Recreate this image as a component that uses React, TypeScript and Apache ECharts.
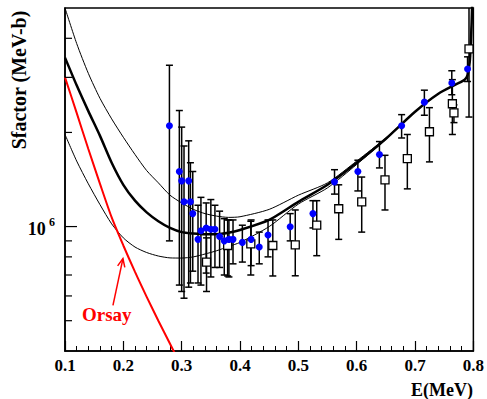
import React, { useEffect, useRef } from 'react';
import * as echarts from 'echarts';

// ---- axis ----
const X_MIN = 0.1;
const X_MAX = 0.8;
const Y_MIN = 4e5;
const Y_MAX = 5e6;
const yTickValues = [5e5, 6e5, 7e5, 8e5, 9e5, 1e6, 2e6, 3e6, 4e6];
const yMajorTick = 1e6;

// ---- model curves ----
const curveE = [0.10, 0.12, 0.14, 0.16, 0.18, 0.20, 0.22, 0.24, 0.26, 0.28, 0.30, 0.32, 0.34, 0.36, 0.38, 0.40, 0.45, 0.50, 0.55, 0.60, 0.65, 0.70, 0.74, 0.77, 0.785, 0.79, 0.794, 0.797, 0.80];
const thickS = [3.47e6, 2.83e6, 2.34e6, 1.95e6, 1.60e6, 1.36e6, 1.21e6, 1.11e6, 1.04e6, 9.9e5, 9.6e5, 9.5e5, 9.45e5, 9.45e5, 9.55e5, 9.75e5, 1.05e6, 1.20e6, 1.36e6, 1.60e6, 1.91e6, 2.33e6, 2.66e6, 2.85e6, 2.95e6, 3.05e6, 3.4e6, 4.5e6, 7e6];
const upperS = [5.0e6, 3.85e6, 3.09e6, 2.57e6, 2.21e6, 1.93e6, 1.70e6, 1.51e6, 1.38e6, 1.26e6, 1.19e6, 1.135e6, 1.10e6, 1.08e6, 1.07e6, 1.075e6, 1.135e6, 1.26e6, 1.38e6, 1.62e6, 1.92e6, 2.33e6, 2.66e6, 2.85e6, 2.95e6, 3.05e6, 3.4e6, 4.5e6, 7e6];
const lowerS = [1.97e6, 1.62e6, 1.37e6, 1.175e6, 1.02e6, 9.2e5, 8.6e5, 8.26e5, 8.05e5, 7.94e5, 7.93e5, 8.0e5, 8.17e5, 8.37e5, 8.63e5, 8.9e5, 1.0e6, 1.18e6, 1.33e6, 1.58e6, 1.90e6, 2.33e6, 2.66e6, 2.85e6, 2.95e6, 3.05e6, 3.4e6, 4.5e6, 7e6];

// ---- Orsay curve ----
const orsayE = [0.10, 0.12, 0.14, 0.16, 0.18, 0.20, 0.22, 0.24, 0.26, 0.28, 0.30];
const orsayS = [3.0e6, 2.31e6, 1.77e6, 1.37e6, 1.07e6, 8.7e5, 7.16e5, 5.96e5, 5.0e5, 4.22e5, 3.55e5];
const arrowFrom = [0.1822, 5.6e5];
const arrowTo = [0.1993, 7.9e5];

// ---- blue data (filled circles) ----
const blueE = [0.279, 0.296, 0.300, 0.304, 0.312, 0.315, 0.319, 0.328, 0.333, 0.342, 0.350, 0.357, 0.365, 0.373, 0.381, 0.388, 0.404, 0.419, 0.433, 0.448, 0.486, 0.525, 0.562, 0.602, 0.639, 0.677, 0.716, 0.763, 0.790];
const blueS = [2.10e6, 1.50e6, 1.40e6, 1.20e6, 1.40e6, 1.20e6, 1.10e6, 9.1e5, 9.7e5, 9.9e5, 9.8e5, 9.8e5, 9.3e5, 9.0e5, 9.1e5, 9.1e5, 8.9e5, 9.1e5, 8.6e5, 9.4e5, 9.98e5, 1.10e6, 1.39e6, 1.50e6, 1.70e6, 2.10e6, 2.50e6, 2.88e6, 3.19e6];
const blueLo = [9.0e5, 6.5e5, 6.2e5, 5.9e5, 6.4e5, 6.6e5, 7.2e5, 6.6e5, 6.5e5, 7.1e5, 6.9e5, 7.4e5, 7.4e5, 7.0e5, 6.9e5, 7.6e5, 7.7e5, 7.5e5, 7.6e5, 8.0e5, 9.0e5, 9.9e5, 1.27e6, 1.30e6, 1.54e6, 1.92e6, 2.27e6, 2.64e6, 2.91e6];
const blueHi = [3.28e6, 2.35e6, 2.08e6, 1.81e6, 1.88e6, 1.60e6, 1.50e6, 1.17e6, 1.24e6, 1.19e6, 1.22e6, 1.17e6, 1.12e6, 1.06e6, 1.05e6, 1.05e6, 1.01e6, 1.05e6, 9.6e5, 1.05e6, 1.10e6, 1.21e6, 1.52e6, 1.63e6, 1.87e6, 2.28e6, 2.73e6, 3.15e6, 3.49e6];

// ---- open square data ----
const sqE = [0.3426, 0.3788, 0.4185, 0.4562, 0.4947, 0.5315, 0.5692, 0.6086, 0.6485, 0.6868, 0.7247, 0.764, 0.7667, 0.7925];
const sqS = [7.7e5, 8.7e5, 8.8e5, 8.7e5, 8.74e5, 1.01e6, 1.14e6, 1.20e6, 1.41e6, 1.65e6, 2.01e6, 2.47e6, 2.31e6, 3.7e6];
const sqLo = [6.2e5, 6.95e5, 7.0e5, 6.95e5, 6.96e5, 8.07e5, 9.1e5, 9.6e5, 1.13e6, 1.32e6, 1.61e6, 1.97e6, 2.15e6, 2.24e6];
const sqHi = [9.2e5, 1.05e6, 1.04e6, 1.05e6, 1.13e6, 1.21e6, 1.36e6, 1.44e6, 1.69e6, 1.97e6, 2.40e6, 2.95e6, 2.45e6, 6e6];

const FONT = 'Liberation Serif';

function errorBarRender(params: any, api: any) {
  const x = api.value(0);
  const lo = api.coord([x, api.value(1)]);
  const hi = api.coord([x, api.value(2)]);
  const w = 3.5;
  const style = { stroke: '#000', lineWidth: 1.5 };
  return {
    type: 'group',
    children: [
      { type: 'line', shape: { x1: lo[0], y1: lo[1], x2: hi[0], y2: hi[1] }, style },
      { type: 'line', shape: { x1: lo[0] - w, y1: lo[1], x2: lo[0] + w, y2: lo[1] }, style },
      { type: 'line', shape: { x1: hi[0] - w, y1: hi[1], x2: hi[0] + w, y2: hi[1] }, style },
    ],
  };
}

export default function App() {
  const ref = useRef<HTMLDivElement>(null);
  useEffect(() => {
    const chart = echarts.init(ref.current!, null, { renderer: 'svg' });
    const lineData = (ys: number[]) => curveE.map((e, i) => [e, ys[i]]);
    const option: any = {
      animation: false,
      backgroundColor: '#fff',
      grid: { left: 65, right: 13, top: 8, bottom: 48, show: true, borderColor: '#000', borderWidth: 1.5, backgroundColor: 'transparent' },
      xAxis: {
        type: 'value', min: X_MIN, max: X_MAX, interval: 0.1,
        axisLine: { show: true, lineStyle: { color: '#000', width: 1.5 } },
        axisTick: { show: true, inside: true, length: 10, lineStyle: { color: '#000', width: 1.2 } },
        minorTick: { show: true, splitNumber: 5, length: 5, lineStyle: { color: '#000', width: 1 } },
        splitLine: { show: false },
        minorSplitLine: { show: false },
        axisLabel: { formatter: (v: number) => v.toFixed(1), color: '#000', fontFamily: FONT, fontWeight: 'bold', fontSize: 17, margin: 6 },
      },
      yAxis: {
        type: 'log', logBase: 10, min: Y_MIN, max: Y_MAX,
        axisLine: { show: true, lineStyle: { color: '#000', width: 1.5 } },
        axisTick: { show: false },
        splitLine: { show: false },
        axisLabel: {
          showMinLabel: false, showMaxLabel: false, margin: 10,
          formatter: (v: number) => (Math.abs(v - yMajorTick) < 1 ? '{b|10} {s|6}' : ''),
          rich: {
            b: { fontFamily: FONT, fontWeight: 'bold', fontSize: 18, color: '#000', lineHeight: 22, verticalAlign: 'bottom' },
            s: { fontFamily: FONT, fontWeight: 'bold', fontSize: 12, color: '#000', lineHeight: 22, verticalAlign: 'top' },
          },
        },
      },
      graphic: [
        { type: 'text', x: 473, y: 390, style: { text: 'E(MeV)', fontFamily: FONT, fontWeight: 'bold', fontSize: 18, fill: '#000', align: 'right', verticalAlign: 'middle' } },
        { type: 'text', x: 19, y: 80, rotation: Math.PI / 2, style: { text: 'Sfactor (MeV-b)', fontFamily: FONT, fontWeight: 'bold', fontSize: 20, fill: '#000', align: 'center', verticalAlign: 'middle' } },
        { type: 'text', x: 82, y: 314, style: { text: 'Orsay', fontFamily: FONT, fontWeight: 'bold', fontSize: 19, fill: '#ff0000', align: 'left', verticalAlign: 'middle' } },
      ],
      series: [
        { type: 'line', data: lineData(lowerS), symbol: 'none', smooth: 0.25, lineStyle: { color: '#000', width: 1 }, z: 2 },
        { type: 'line', data: lineData(upperS), symbol: 'none', smooth: 0.25, lineStyle: { color: '#000', width: 1 }, z: 2 },
        { type: 'line', data: lineData(thickS), symbol: 'none', smooth: 0.25, lineStyle: { color: '#000', width: 2.5 }, z: 3 },
        { type: 'line', data: orsayE.map((e, i) => [e, orsayS[i]]), symbol: 'none', smooth: 0.25, lineStyle: { color: '#ff0000', width: 2 }, z: 4 },
        {
          type: 'custom', z: 4, clip: false,
          data: [[arrowFrom[0], arrowFrom[1], arrowTo[0], arrowTo[1]]],
          renderItem: (params: any, api: any) => {
            const a = api.coord([api.value(0), api.value(1)]);
            const b = api.coord([api.value(2), api.value(3)]);
            const ang = Math.atan2(b[1] - a[1], b[0] - a[0]);
            const L = 9, spread = 0.42;
            const p1 = [b[0] - L * Math.cos(ang - spread), b[1] - L * Math.sin(ang - spread)];
            const p2 = [b[0] - L * Math.cos(ang + spread), b[1] - L * Math.sin(ang + spread)];
            const style = { stroke: '#ff0000', lineWidth: 1.5, fill: null };
            return {
              type: 'group',
              children: [
                { type: 'line', shape: { x1: a[0], y1: a[1], x2: b[0], y2: b[1] }, style },
                { type: 'polyline', shape: { points: [p1, b, p2] }, style },
              ],
            };
          },
        },
        { type: 'custom', z: 5, clip: true, renderItem: errorBarRender, encode: { x: 0, y: [1, 2] }, data: sqE.map((e, i) => [e, sqLo[i], sqHi[i]]) },
        { type: 'custom', z: 5, clip: true, renderItem: errorBarRender, encode: { x: 0, y: [1, 2] }, data: blueE.map((e, i) => [e, blueLo[i], blueHi[i]]) },
        { type: 'scatter', z: 6, symbol: 'rect', symbolSize: 8, itemStyle: { color: '#ffffff', borderColor: '#000', borderWidth: 1.3, opacity: 1 }, data: sqE.map((e, i) => [e, sqS[i]]) },
        { type: 'scatter', z: 7, symbol: 'circle', symbolSize: 7, itemStyle: { color: '#0000ff', opacity: 1 }, data: blueE.map((e, i) => [e, blueS[i]]) },
        {
          type: 'custom', z: 8, clip: false,
          data: yTickValues.map((v) => [X_MIN, v]),
          renderItem: (params: any, api: any) => {
            const v = api.value(1);
            const p = api.coord([X_MIN, v]);
            const len = Math.abs(v - yMajorTick) < 1 ? 12 : 7;
            return { type: 'line', shape: { x1: p[0], y1: p[1], x2: p[0] + len, y2: p[1] }, style: { stroke: '#000', lineWidth: 1.2 } };
          },
        },
      ],
    };
    chart.setOption(option);
    return () => chart.dispose();
  }, []);
  return <div ref={ref} style={{ position: 'fixed', left: 0, top: 0, width: 487, height: 399, background: '#fff' }} />;
}
